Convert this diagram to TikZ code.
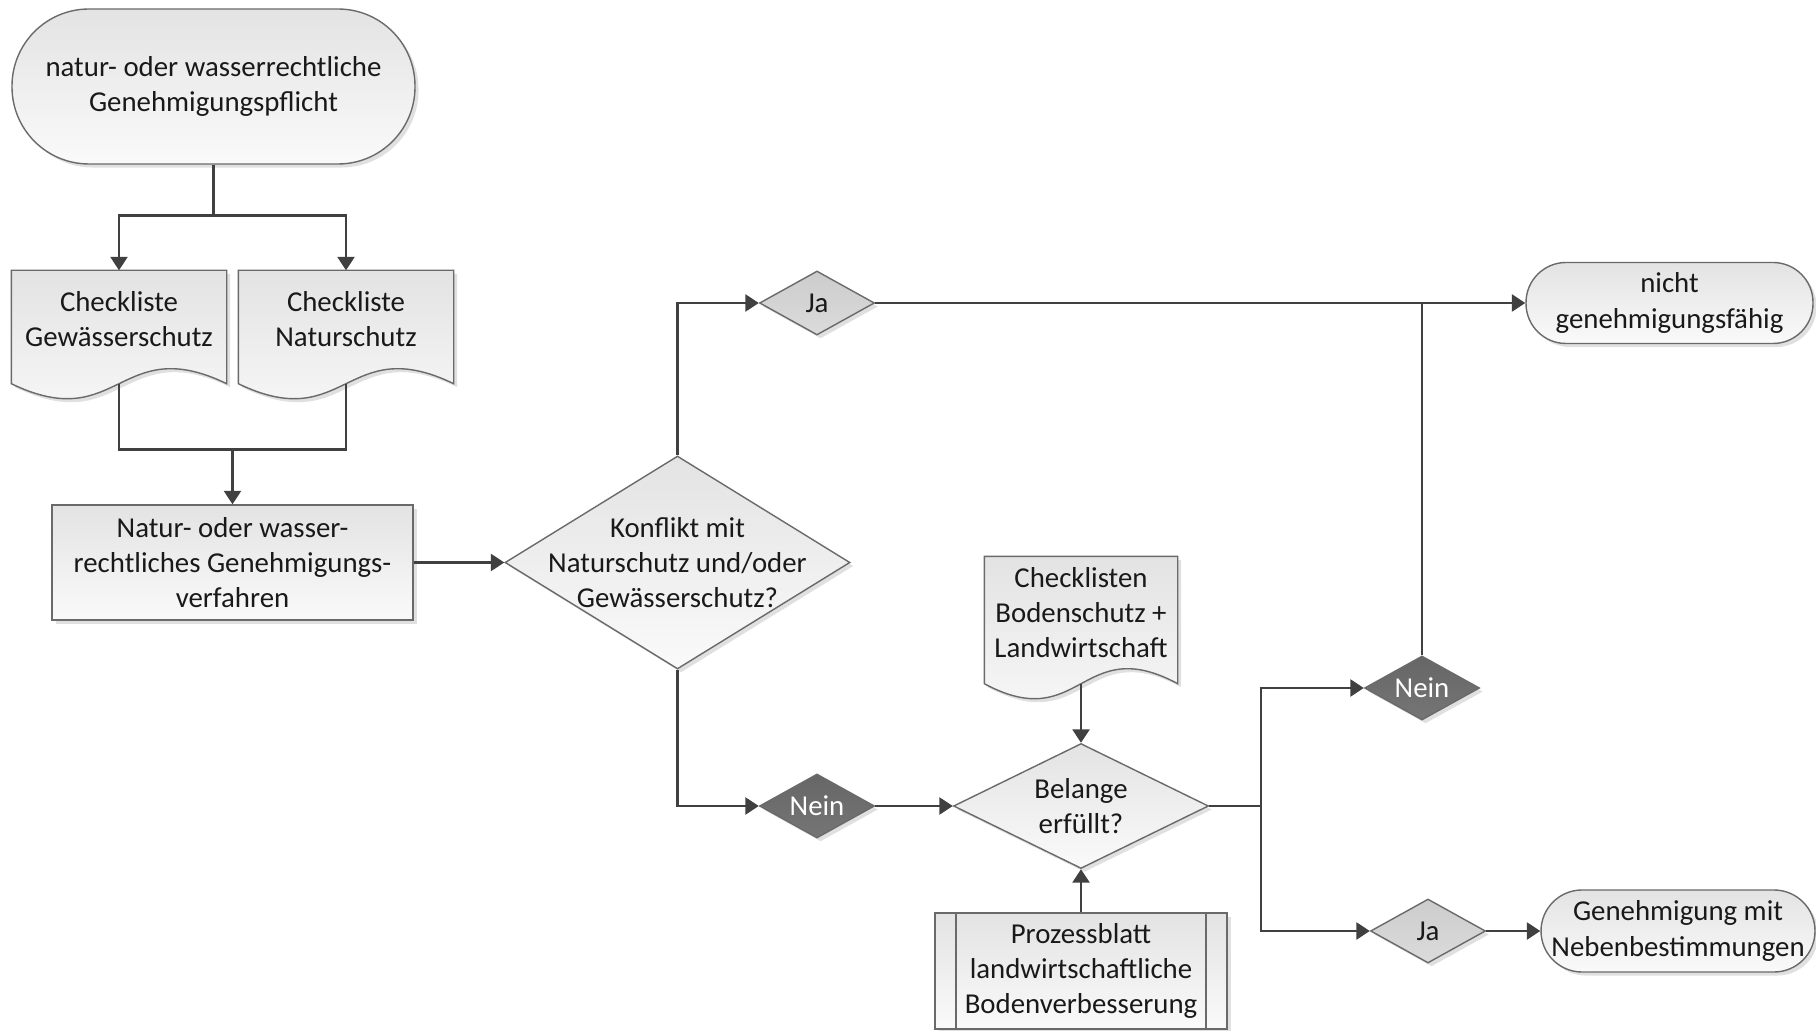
\documentclass[tikz,border=0pt]{standalone}
\usepackage{fontspec}
\setmainfont{Carlito}
\usepackage{xcolor}
\usepackage{tikz}
\usetikzlibrary{shapes.geometric,arrows.meta,calc,backgrounds,shadows}

\definecolor{lineg}{HTML}{404040}
\definecolor{edgeg}{HTML}{6A6A6A}

\tikzset{
	txt/.style={align=center, font=\fontsize{8.2}{10}\selectfont, text=black!90, inner sep=0pt},
	softshadow/.style={drop shadow={shadow xshift=1pt, shadow yshift=-1pt, opacity=0.12, fill=black}},
	filled/.style={draw=edgeg, thin, top color=black!11, bottom color=black!2, softshadow},
	term/.style={txt, filled, rectangle, rounded corners=#1},
	proc/.style={txt, filled, rectangle},
	subproc/.style={proc, path picture={
		\draw[edgeg, thin] ([xshift=0.21cm]path picture bounding box.north west) -- ([xshift=0.21cm]path picture bounding box.south west);
		\draw[edgeg, thin] ([xshift=-0.21cm]path picture bounding box.north east) -- ([xshift=-0.21cm]path picture bounding box.south east);}},
	decision/.style={txt, filled, diamond, aspect=2},
	ja/.style={decision, minimum width=1.15cm, minimum height=0.64cm, top color=black!20, bottom color=black!14},
	nein/.style={decision, minimum width=1.15cm, minimum height=0.64cm, top color=black!60, bottom color=black!54, text=white},
	docbox/.style={txt, rectangle},
	docshape/.style={filled},
}

\begin{document}
\begin{tikzpicture}[
	line/.style={draw=lineg, line width=0.7pt},
	arrow/.style={line, -{Triangle[length=3.8pt,width=4.8pt]}},
]
	\useasboundingbox (0,0) rectangle (18.16,10.30);
	% Start
	\node[term=0.77cm, minimum width=4.03cm, minimum height=1.55cm] (start) at (2.135,9.435) {natur- oder wasserrechtliche\\Genehmigungspflicht};
	% Checklisten
	\node[docbox, minimum width=2.14cm, minimum height=0.97cm] (cg) at (1.19,7.105) {Checkliste\\Gewässerschutz};
	\node[docbox, minimum width=2.14cm, minimum height=0.97cm] (cn) at (3.46,7.105) {Checkliste\\Naturschutz};
	\node[docbox, minimum width=1.92cm, minimum height=1.11cm] (cb) at (10.81,4.175) {Checklisten\\Bodenschutz +\\Landwirtschaft};
	\begin{scope}[on background layer]
	\foreach \d in {cg,cn,cb} {
		\draw[docshape] (\d.north west) -- (\d.north east) -- ($(\d.south east)+(0,-0.15)$)
			.. controls ($(\d.south)+(0,0.37)$) and ($(\d.south)+(0,-0.67)$) .. ($(\d.south west)+(0,-0.15)$) -- cycle;
		\coordinate (\d-b) at ($(\d.south)+(0,-0.15)$);
	}
	\end{scope}
	% Verfahren
	\node[proc, minimum width=3.61cm, minimum height=1.15cm] (verf) at (2.325,4.675) {Natur- oder wasser-\\rechtliches Genehmigungs-\\verfahren};
	\node[decision, minimum width=3.45cm, minimum height=2.13cm] (konf) at (6.775,4.675) {};
	\node[txt] (konf-t) at (konf) {Konflikt mit\\Naturschutz und/oder\\Gewässerschutz?};
	\node[ja] (ja1) at (8.17,7.27) {Ja};
	\node[nein] (nein1) at (8.17,2.24) {Nein};
	\node[decision, minimum width=2.55cm, minimum height=1.25cm] (bel) at (10.81,2.24) {Belange\\erfüllt?};
	\node[subproc, minimum width=2.92cm, minimum height=1.16cm] (pz) at (10.81,0.59) {Prozessblatt\\landwirtschaftliche\\Bodenverbesserung};
	\node[nein] (nein2) at (14.22,3.42) {Nein};
	\node[ja] (ja2) at (14.28,0.99) {Ja};
	% Ergebnisse
	\node[term=0.4cm, minimum width=2.87cm, minimum height=0.81cm] (nicht) at (16.695,7.27) {nicht\\genehmigungsfähig};
	\node[term=0.41cm, minimum width=2.74cm, minimum height=0.82cm] (gen) at (16.78,0.99) {Genehmigung mit\\Nebenbestimmungen};

	\draw[arrow] (start.south) -- ++(0,-0.51) -| (cg.north);
	\draw[arrow] (start.south) -- ++(0,-0.51) -| (cn.north);
	\draw[line] (cg-b) -- ++(0,-0.66) coordinate (mg) -| (cn-b);
	\draw[arrow] (mg -| verf.north) -- (verf.north);
	\draw[arrow] (verf.east) -- (konf.west);
	\draw[arrow] (konf.north) |- (ja1.west);
	\draw[arrow] (ja1.east) -- (nicht.west);
	\draw[line] (nein2.north) -- (nein2.north |- nicht.west);
	\draw[arrow] (konf.south) |- (nein1.west);
	\draw[arrow] (nein1.east) -- (bel.west);
	\draw[arrow] (cb-b) -- (bel.north);
	\draw[arrow] (pz.north) -- (bel.south);
	\draw[line] (bel.east) -- ++(0.52,0) coordinate (sp);
	\draw[arrow] (sp) |- (nein2.west);
	\draw[arrow] (sp) |- (ja2.west);
	\draw[arrow] (ja2.east) -- (gen.west);
\end{tikzpicture}
\end{document}
